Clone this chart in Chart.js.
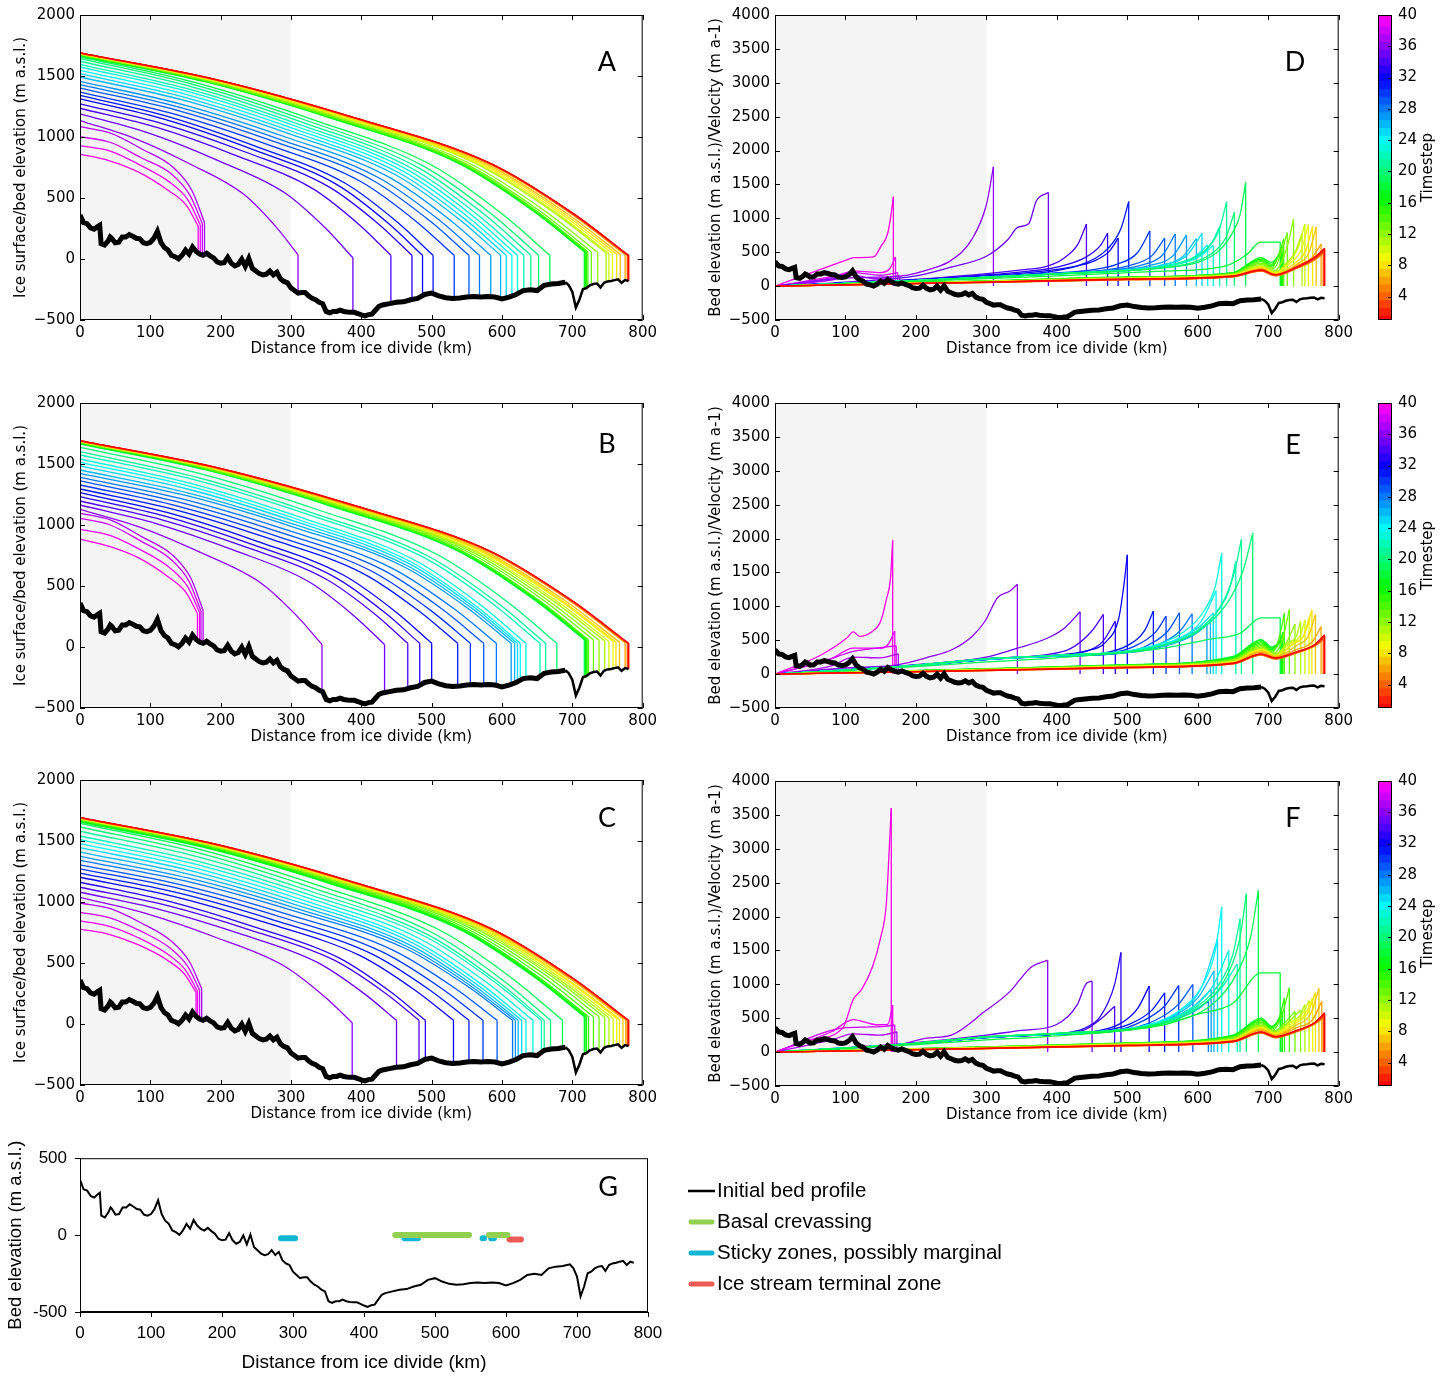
<!DOCTYPE html>
<html>
<head>
<meta charset="utf-8">
<title>Ice sheet retreat timesteps</title>
<script src="https://cdn.jsdelivr.net/npm/chart.js@4.4.1/dist/chart.umd.min.js"></script>
<style>
  body { margin: 0; background: #fff; width: 1450px; height: 1376px; position: relative; overflow: hidden; }
  canvas { position: absolute; }
</style>
</head>
<body>
<canvas id="chartA" width="661" height="365" style="left:0;top:0"></canvas>
<canvas id="chartB" width="661" height="365" style="left:0;top:388px"></canvas>
<canvas id="chartC" width="661" height="365" style="left:0;top:765px"></canvas>
<canvas id="chartD" width="662" height="365" style="left:695px;top:0"></canvas>
<canvas id="chartE" width="662" height="365" style="left:695px;top:388px"></canvas>
<canvas id="chartF" width="662" height="365" style="left:695px;top:766px"></canvas>
<canvas id="barD" width="80" height="340" style="left:1370px;top:0"></canvas>
<canvas id="barE" width="80" height="340" style="left:1370px;top:388px"></canvas>
<canvas id="barF" width="80" height="340" style="left:1370px;top:766px"></canvas>
<canvas id="chartG" width="1060" height="236" style="left:0;top:1140px"></canvas>
<script>
// ---- data ----
const timesteps = [1,2,3,4,5,6,7,8,9,10,11,12,13,14,15,16,17,18,19,20,21,22,23,24,25,26,27,28,29,30,31,32,33,34,35,36,37,38,39,40];
const colourbarTicks = [4,8,12,16,20,24,28,32,36,40];

// initial bed profile (km, m a.s.l.)
const bedKm = [0,5,10,15,20,25,28,30,35,40,43,45,50,55,60,65,70,75,80,85,90,95,100,105,110,115,120,125,130,135,140,145,150,155,160,165,170,175,180,185,190,195,200,205,210,215,220,225,230,235,240,245,250,255,260,265,270,275,280,285,290,295,300,305,310,315,320,325,330,335,340,345,350,355,360,365,370,375,380,385,390,395,400,405,410,415,420,425,430,440,450,460,470,480,490,500,510,520,530,540,550,560,570,580,590,600,610,620,630,640,650,660,670,680,690,695,700,705,710,715,720,725,730,735,740,745,750,755,760,765,770,775,780];
const bedElev = [360,298,290,255,244,265,276,126,115,148,180,170,133,137,180,180,200,186,170,165,133,126,137,170,227,137,94,73,30,19,2,30,73,41,98,62,41,30,47,26,9,-24,-34,-30,13,-34,-56,-45,-2,-60,4,-77,-98,-120,-130,-124,-98,-130,-109,-163,-184,-195,-238,-259,-280,-274,-274,-302,-323,-334,-355,-366,-430,-441,-430,-430,-420,-430,-435,-437,-437,-447,-458,-467,-456,-452,-420,-388,-377,-366,-355,-351,-334,-323,-291,-280,-302,-317,-323,-319,-312,-308,-312,-308,-312,-327,-312,-291,-259,-252,-259,-216,-205,-201,-190,-216,-270,-398,-334,-248,-238,-216,-205,-201,-233,-195,-184,-180,-173,-167,-195,-173,-180];

// ice surface rows: elevation at these fractions of each timestep's ice length
const surfFrac = [0, 0.25, 0.5, 0.75, 0.9, 1];

// terminus position (km) per timestep
const termA = [780,780,779,779,778,775,768,763,757,752,748,736,727,722,720,719,718,717,668,652,641,631,622,614,606,598,584,568,553,532,502,487,472,442,388,310,177,174,171,168];
const termB = [780,780,779,779,778,775,767,762,758,752,746,738,730,723,721,720,719,718,717,678,662,654,634,626,622,618,613,592,574,555,537,500,483,466,433,344,175,172,170,167];
const termC = [780,780,779,779,778,776,772,767,763,758,752,746,738,730,723,720,718,717,686,669,660,656,644,634,628,623,619,615,593,573,553,531,491,482,450,387,173,170,167,165];

const surfA = [
  [1690,1469,1159,780,370,30],[1690,1469,1159,780,370,30],[1689,1468,1158,780,370,30],[1688,1467,1157,779,370,30],
  [1687,1466,1157,779,370,30],[1686,1466,1158,781,373,35],[1685,1466,1159,784,377,40],[1684,1465,1158,783,377,40],
  [1683,1465,1159,785,381,45],[1682,1464,1158,785,381,45],[1680,1463,1158,787,384,50],[1678,1462,1159,789,388,55],
  [1676,1461,1159,790,391,60],[1674,1459,1158,790,391,60],[1672,1458,1156,789,390,60],[1670,1456,1155,788,390,60],
  [1667,1453,1153,786,389,60],[1664,1451,1151,785,389,60],[1658,1441,1137,766,364,30],[1643,1428,1127,759,361,30],
  [1621,1409,1112,749,356,30],[1596,1388,1095,738,351,30],[1574,1369,1080,728,347,30],[1547,1345,1062,716,341,30],
  [1519,1321,1043,703,335,30],[1492,1298,1024,691,330,30],[1456,1266,1000,675,322,30],[1429,1243,981,662,317,30],
  [1401,1219,962,650,311,30],[1368,1190,940,635,304,30],[1341,1167,921,623,299,30],[1313,1142,902,610,293,30],
  [1272,1107,875,591,285,30],[1236,1076,850,575,277,30],[1190,1033,812,543,252,10],[1135,989,783,532,261,35],
  [1085,1030,900,750,560,300],[1003,955,830,695,520,290],[929,885,770,626,480,280],[860,805,710,560,440,270]
];
const surfB = [
  [1692,1471,1160,781,371,30],[1691,1470,1160,781,371,30],[1690,1469,1159,780,370,30],[1689,1468,1158,780,370,30],
  [1688,1467,1157,779,370,30],[1687,1467,1158,782,374,35],[1686,1467,1159,784,377,40],[1685,1466,1158,784,377,40],
  [1684,1466,1160,786,381,45],[1683,1465,1159,785,381,45],[1681,1464,1159,787,384,50],[1680,1464,1160,790,388,55],
  [1678,1463,1160,791,392,60],[1676,1461,1159,790,391,60],[1674,1459,1158,790,391,60],[1672,1458,1156,789,390,60],
  [1670,1456,1155,788,390,60],[1667,1453,1153,786,389,60],[1664,1451,1151,785,389,60],[1637,1423,1123,756,359,30],
  [1601,1392,1098,740,352,30],[1574,1369,1080,728,347,30],[1541,1340,1057,713,340,30],[1514,1317,1039,701,334,30],
  [1484,1291,1019,687,328,30],[1451,1262,996,672,321,30],[1423,1238,977,660,316,30],[1391,1210,955,645,309,30],
  [1361,1184,935,632,303,30],[1328,1155,913,617,296,30],[1295,1127,890,602,289,30],[1265,1101,870,588,283,30],
  [1232,1072,847,573,276,30],[1197,1042,824,557,269,30],[1164,1012,798,537,255,20],[1128,981,773,521,247,20],
  [1096,1040,905,755,565,300],[1055,1000,870,720,540,295],[964,915,800,650,495,285],[885,825,730,575,450,275]
];
const surfC = [
  [1693,1472,1161,782,371,30],[1692,1471,1160,781,371,30],[1691,1470,1160,781,371,30],[1690,1469,1159,780,370,30],
  [1689,1468,1158,780,370,30],[1688,1468,1159,782,374,35],[1687,1468,1160,784,378,40],[1686,1467,1159,784,377,40],
  [1684,1466,1160,786,381,45],[1682,1464,1158,785,381,45],[1680,1463,1158,787,384,50],[1678,1462,1159,789,388,55],
  [1676,1461,1159,790,391,60],[1673,1458,1157,789,391,60],[1670,1456,1155,788,390,60],[1666,1452,1152,786,389,60],
  [1661,1448,1149,784,388,60],[1655,1443,1145,781,387,60],[1645,1430,1128,760,361,30],[1615,1404,1108,746,355,30],
  [1580,1374,1084,731,348,30],[1541,1340,1057,713,340,30],[1511,1314,1037,699,334,30],[1478,1285,1015,684,327,30],
  [1445,1257,992,670,320,30],[1409,1226,968,653,313,30],[1374,1195,944,637,306,30],[1341,1167,921,623,299,30],
  [1305,1135,897,606,291,30],[1272,1107,875,591,285,30],[1236,1076,850,575,277,30],[1203,1047,828,560,270,30],
  [1162,1011,800,542,262,30],[1121,976,772,523,254,30],[1080,940,744,505,245,30],[1038,901,709,475,221,10],
  [992,945,830,680,510,290],[915,870,765,625,475,280],[846,800,705,570,440,270],[777,735,650,525,410,260]
];

// velocity profiles: [km, m a-1] points up to the terminus peak
const velD = [
  [[0,0],[300,60],[500,105],[650,150],[690,240],[710,170],[740,280],[765,420],[780,560]],
  [[0,0],[300,58],[500,100],[650,145],[690,235],[710,165],[740,275],[765,410],[780,540]],
  [[0,0],[300,55],[500,98],[650,142],[690,230],[710,160],[740,270],[765,400],[779,520]],
  [[0,0],[300,55],[500,95],[650,140],[690,225],[710,155],[740,265],[765,390],[779,500]],
  [[0,0],[300,52],[500,92],[650,138],[690,220],[710,150],[740,260],[765,380],[778,480]],
  [[0,0],[300,60],[500,105],[650,150],[690,250],[710,170],[740,300],[762,420],[775,620]],
  [[0,0],[300,60],[500,108],[650,155],[690,260],[710,180],[740,320],[758,500],[768,870]],
  [[0,0],[300,62],[500,110],[650,158],[690,270],[710,185],[735,320],[753,520],[763,880]],
  [[0,0],[300,64],[500,112],[650,160],[690,280],[710,190],[730,330],[747,540],[757,905]],
  [[0,0],[300,65],[500,115],[650,165],[690,290],[710,200],[728,340],[742,560],[752,917]],
  [[0,0],[300,66],[500,118],[650,170],[690,300],[710,210],[725,330],[738,500],[748,780]],
  [[0,0],[300,68],[500,120],[650,175],[690,320],[710,230],[720,380],[728,620],[736,990]],
  [[0,0],[300,70],[500,125],[650,180],[690,340],[708,260],[718,480],[727,790]],
  [[0,0],[300,72],[500,128],[650,185],[690,360],[706,280],[715,470],[722,700]],
  [[0,0],[300,74],[500,130],[650,190],[690,380],[705,300],[714,430],[720,600]],
  [[0,0],[300,76],[500,132],[650,195],[690,400],[705,320],[712,420],[719,520]],
  [[0,0],[300,78],[500,135],[650,200],[690,420],[704,350],[718,480]],
  [[0,0],[200,70],[400,150],[550,220],[640,300],[670,470],[689,650],[717,650]],
  [[0,0],[200,80],[400,180],[550,270],[600,350],[630,520],[650,800],[660,1050],[668,1532]],
  [[0,0],[200,80],[400,180],[550,270],[590,340],[620,480],[640,720],[652,1090]],
  [[0,0],[200,80],[400,180],[540,270],[580,360],[610,520],[630,820],[641,1247]],
  [[0,0],[200,80],[400,180],[530,260],[570,330],[600,450],[620,640],[631,878]],
  [[0,0],[200,80],[400,180],[530,260],[570,320],[600,420],[622,600]],
  [[0,0],[200,80],[400,180],[520,250],[560,310],[595,430],[614,608]],
  [[0,0],[200,80],[400,180],[510,250],[550,310],[585,460],[606,780]],
  [[0,0],[200,80],[400,180],[500,240],[545,300],[578,430],[598,700]],
  [[0,0],[200,80],[400,180],[490,240],[530,300],[565,450],[584,755]],
  [[0,0],[200,80],[400,185],[480,240],[520,310],[550,460],[568,770]],
  [[0,0],[200,85],[400,190],[470,240],[505,310],[535,450],[553,707]],
  [[0,0],[200,85],[400,195],[450,240],[485,320],[515,500],[532,814]],
  [[0,0],[200,90],[400,230],[435,320],[473,560],[491,850],[502,1247]],
  [[0,0],[200,90],[380,220],[420,280],[455,380],[475,520],[487,707]],
  [[0,0],[200,95],[360,220],[400,280],[440,420],[462,600],[472,780]],
  [[0,0],[200,100],[350,240],[388,300],[411,420],[430,620],[442,917]],
  [[0,0],[100,60],[200,150],[250,280],[300,440],[330,680],[345,870],[360,920],[371,1260],[388,1380]],
  [[0,0],[100,120],[180,150],[220,250],[250,380],[280,700],[300,1200],[310,1760]],
  [[0,0],[80,90],[110,160],[140,110],[177,150]],
  [[0,0],[80,120],[110,200],[150,160],[174,200]],
  [[0,0],[80,140],[115,220],[150,200],[163,260],[171,430]],
  [[0,0],[50,190],[100,380],[112,420],[140,430],[150,580],[160,780],[165,1076],[168,1320]]
];
const velE = [
  [[0,0],[300,55],[500,100],[650,160],[690,300],[710,240],[740,330],[765,430],[780,580]],
  [[0,0],[300,54],[500,98],[650,158],[690,295],[710,235],[740,325],[765,425],[780,560]],
  [[0,0],[300,53],[500,96],[650,155],[690,290],[710,230],[740,320],[765,420],[779,540]],
  [[0,0],[300,52],[500,94],[650,152],[690,285],[710,225],[740,315],[765,415],[779,520]],
  [[0,0],[300,51],[500,92],[650,150],[690,280],[710,220],[740,310],[765,410],[778,500]],
  [[0,0],[300,58],[500,105],[650,165],[690,320],[710,250],[740,360],[762,470],[775,700]],
  [[0,0],[300,60],[500,108],[650,170],[690,340],[710,260],[740,420],[757,560],[767,880]],
  [[0,0],[300,62],[500,110],[650,175],[690,350],[710,265],[735,440],[752,600],[762,950]],
  [[0,0],[300,63],[500,112],[650,180],[690,360],[710,270],[735,450],[750,560],[758,830]],
  [[0,0],[300,64],[500,115],[650,185],[690,370],[710,280],[730,450],[745,560],[752,800]],
  [[0,0],[300,66],[500,118],[650,190],[690,380],[710,290],[728,460],[740,560],[746,780]],
  [[0,0],[300,68],[500,120],[650,200],[690,400],[710,300],[725,450],[738,740]],
  [[0,0],[300,70],[500,125],[650,210],[690,420],[708,310],[720,500],[730,955]],
  [[0,0],[300,72],[500,128],[650,220],[690,440],[706,320],[716,560],[723,905]],
  [[0,0],[300,74],[500,130],[650,230],[690,460],[705,340],[715,450],[721,620]],
  [[0,0],[300,76],[500,132],[650,240],[690,480],[705,360],[720,550]],
  [[0,0],[300,78],[500,135],[650,250],[690,500],[705,380],[719,500]],
  [[0,0],[300,80],[500,138],[650,260],[690,510],[705,400],[718,480]],
  [[0,0],[200,110],[300,180],[400,240],[550,380],[620,520],[660,600],[690,830],[717,830]],
  [[0,0],[200,130],[300,225],[400,275],[550,420],[610,700],[645,1100],[665,1550],[678,2083]],
  [[0,0],[200,130],[300,225],[400,275],[540,400],[600,650],[635,1050],[652,1500],[662,1988]],
  [[0,0],[200,130],[300,225],[400,275],[540,400],[600,640],[630,950],[645,1250],[654,1665]],
  [[0,0],[200,130],[300,225],[400,275],[520,380],[580,620],[610,950],[625,1300],[634,1784]],
  [[0,0],[200,130],[300,222],[400,272],[520,370],[575,540],[605,780],[626,1228]],
  [[0,0],[200,128],[300,220],[400,270],[520,360],[570,500],[600,680],[622,900]],
  [[0,0],[200,128],[300,220],[400,270],[520,350],[570,470],[600,620],[618,800]],
  [[0,0],[200,126],[300,218],[400,268],[520,340],[565,450],[595,580],[613,730]],
  [[0,0],[200,126],[300,218],[400,268],[500,320],[545,440],[575,640],[592,890]],
  [[0,0],[200,125],[300,216],[400,266],[490,310],[530,430],[558,640],[574,905]],
  [[0,0],[200,125],[300,215],[400,265],[470,300],[510,410],[540,620],[555,855]],
  [[0,0],[200,125],[300,215],[400,265],[460,300],[500,420],[525,650],[537,930]],
  [[0,0],[200,130],[300,225],[400,280],[440,340],[470,480],[488,830],[495,1300],[500,1760]],
  [[0,0],[200,130],[300,225],[400,280],[440,330],[465,480],[483,781]],
  [[0,0],[200,135],[300,228],[380,280],[420,380],[450,640],[466,880]],
  [[0,0],[200,140],[300,250],[344,383],[387,533],[411,682],[433,920]],
  [[0,0],[100,90],[173,135],[221,260],[251,360],[280,560],[298,780],[316,1130],[334,1230],[344,1327]],
  [[0,0],[80,120],[111,250],[150,240],[175,300]],
  [[0,0],[72,200],[111,334],[150,390],[172,418]],
  [[0,0],[80,230],[111,383],[150,383],[160,433],[170,632]],
  [[0,0],[66,285],[102,533],[111,622],[120,557],[138,630],[150,780],[158,1100],[164,1427],[167,1973]]
];
const velF = [
  [[0,0],[300,55],[500,100],[650,160],[690,300],[710,230],[740,320],[765,430],[780,580]],
  [[0,0],[300,54],[500,98],[650,158],[690,295],[710,225],[740,315],[765,425],[780,560]],
  [[0,0],[300,53],[500,96],[650,155],[690,290],[710,220],[740,310],[765,420],[779,540]],
  [[0,0],[300,52],[500,94],[650,152],[690,285],[710,215],[740,305],[765,415],[779,520]],
  [[0,0],[300,51],[500,92],[650,150],[690,280],[710,210],[740,300],[765,410],[778,500]],
  [[0,0],[300,58],[500,105],[650,165],[690,320],[710,240],[740,360],[763,480],[776,750]],
  [[0,0],[300,60],[500,108],[650,170],[690,340],[710,250],[740,400],[760,560],[772,940]],
  [[0,0],[300,62],[500,110],[650,175],[690,350],[710,260],[738,420],[756,580],[767,880]],
  [[0,0],[300,63],[500,112],[650,180],[690,360],[710,270],[735,430],[752,560],[763,800]],
  [[0,0],[300,64],[500,115],[650,185],[690,370],[710,280],[732,440],[748,560],[758,760]],
  [[0,0],[300,66],[500,118],[650,190],[690,380],[710,290],[730,440],[745,540],[752,700]],
  [[0,0],[300,68],[500,120],[650,200],[690,400],[710,300],[728,440],[746,620]],
  [[0,0],[300,70],[500,125],[650,210],[690,420],[708,310],[725,450],[738,600]],
  [[0,0],[300,72],[500,128],[650,220],[690,440],[706,320],[720,560],[730,950]],
  [[0,0],[300,74],[500,130],[650,230],[690,460],[705,340],[716,520],[723,800]],
  [[0,0],[300,76],[500,132],[650,240],[690,480],[705,360],[713,450],[720,600]],
  [[0,0],[300,78],[500,135],[650,250],[690,500],[705,380],[718,500]],
  [[0,0],[200,110],[300,180],[400,240],[550,400],[600,560],[650,720],[690,1170],[717,1170]],
  [[0,0],[200,130],[300,225],[400,275],[550,420],[620,700],[655,1150],[675,1700],[686,2388]],
  [[0,0],[200,130],[300,225],[400,275],[540,400],[605,680],[640,1100],[660,1700],[669,2338]],
  [[0,0],[200,130],[300,225],[400,275],[530,390],[595,650],[630,1000],[650,1450],[660,1966]],
  [[0,0],[200,130],[300,225],[400,275],[530,385],[590,600],[630,900],[656,1300]],
  [[0,0],[200,130],[300,222],[400,272],[520,375],[580,580],[620,950],[644,1500]],
  [[0,0],[200,130],[300,222],[400,272],[520,375],[575,620],[610,1050],[625,1500],[634,2140]],
  [[0,0],[200,128],[300,220],[400,270],[510,360],[570,580],[605,950],[628,1669]],
  [[0,0],[200,128],[300,220],[400,270],[510,350],[565,530],[600,800],[623,1197]],
  [[0,0],[200,126],[300,218],[400,268],[510,345],[560,490],[595,680],[619,925]],
  [[0,0],[200,126],[300,218],[400,268],[510,340],[560,470],[595,600],[615,750]],
  [[0,0],[200,125],[300,216],[400,266],[490,320],[540,470],[572,700],[593,999]],
  [[0,0],[200,125],[300,215],[400,265],[480,310],[520,450],[553,680],[573,984]],
  [[0,0],[200,125],[300,215],[400,265],[460,300],[505,420],[535,620],[553,875]],
  [[0,0],[200,125],[300,215],[400,265],[450,300],[490,420],[515,650],[531,974]],
  [[0,0],[200,130],[300,225],[400,270],[440,354],[462,530],[482,1000],[491,1470]],
  [[0,0],[200,130],[300,225],[400,265],[440,330],[464,503],[482,677]],
  [[0,0],[200,140],[300,250],[350,320],[399,404],[429,700],[441,1000],[450,1049]],
  [[0,0],[100,60],[173,100],[215,205],[251,255],[298,602],[334,900],[346,1050],[363,1247],[387,1356]],
  [[0,0],[80,180],[111,270],[150,250],[173,300]],
  [[0,0],[96,354],[130,370],[155,379],[170,400]],
  [[0,0],[80,300],[111,478],[144,404],[160,410],[167,690]],
  [[0,0],[50,180],[96,354],[111,776],[123,925],[138,1247],[150,1693],[158,2190],[163,3180],[165,3603]]
];

// panel G zones (km ranges) and the level each is drawn at (m)
const crevasseZones = [[444,548],[576,602]];
const stickyZones = [[283,303],[457,476],[567,569],[579,583]];
const terminalZones = [[605,621]];
const zoneLevels = [0, -20, -28];

// ---- styling helpers ----
Chart.defaults.font.family = "'DejaVu Sans', sans-serif";
Chart.defaults.font.size = 15;
Chart.defaults.color = '#000';
Chart.defaults.elements.point.radius = 0;
Chart.defaults.elements.line.borderCapStyle = 'butt';

const shadeKm = 300;

function stepColour(t) {
  return 'hsl(' + (305 * (t - 1) / 39).toFixed(1) + ', 100%, 49%)';
}

function minusLabel(v) {
  return v < 0 ? '\u2212' + Math.abs(v) : String(v);
}

function nearestBed(km) {
  let best = 0;
  bedKm.forEach((k, i) => {
    if (Math.abs(k - km) < Math.abs(bedKm[best] - km)) best = i;
  });
  return bedElev[best];
}

function bedSet() {
  return {
    data: bedKm.map((k, i) => ({ x: k, y: bedElev[i] })),
    borderColor: '#000',
    borderWidth: 5,
    segment: { borderWidth: c => (c.p0.parsed.x >= 690 ? 2.5 : 5) }
  };
}

function surfaceSets(rows, term) {
  const sets = [];
  rows.forEach((row, i) => {
    const colour = stepColour(timesteps[i]);
    const L = term[i];
    sets.push({
      data: row.map((v, j) => ({ x: surfFrac[j] * L, y: v })),
      borderColor: colour, borderWidth: 1.3, cubicInterpolationMode: 'monotone'
    });
    // calving front: straight drop to the bed
    sets.push({
      data: [{ x: L, y: row[row.length - 1] }, { x: L, y: nearestBed(L) }],
      borderColor: colour, borderWidth: 1.3
    });
  });
  return sets;
}

function velocitySets(rows) {
  const sets = [];
  rows.forEach((row, i) => {
    const colour = stepColour(timesteps[i]);
    const end = row[row.length - 1];
    sets.push({
      data: row.map(p => ({ x: p[0], y: p[1] })),
      borderColor: colour, borderWidth: 1.3, cubicInterpolationMode: 'monotone'
    });
    // drop back to zero at the terminus
    sets.push({
      data: [{ x: end[0], y: end[1] }, { x: end[0], y: 0 }],
      borderColor: colour, borderWidth: 1.3
    });
  });
  return sets;
}

// grey band, box frame, inward ticks and panel letter
const panelFrame = {
  id: 'panelFrame',
  beforeDatasetsDraw(chart, args, o) {
    if (o.shadeTo == null) return;
    const { ctx, chartArea: a, scales: { x } } = chart;
    ctx.save();
    ctx.fillStyle = '#f4f4f4';
    ctx.fillRect(a.left, a.top, x.getPixelForValue(o.shadeTo) - a.left, a.bottom - a.top);
    ctx.restore();
  },
  afterDraw(chart, args, o) {
    const { ctx, chartArea: a, scales: { x, y } } = chart;
    ctx.save();
    ctx.strokeStyle = '#000';
    ctx.lineWidth = 1;
    ctx.strokeRect(a.left + 0.5, a.top + 0.5, a.right - a.left - 1, a.bottom - a.top - 1);
    if (o.innerTicks) {
      ctx.beginPath();
      x.ticks.forEach(t => {
        const p = Math.round(x.getPixelForValue(t.value)) + 0.5;
        ctx.moveTo(p, a.bottom); ctx.lineTo(p, a.bottom - 5);
        ctx.moveTo(p, a.top); ctx.lineTo(p, a.top + 5);
      });
      y.ticks.forEach(t => {
        const p = Math.round(y.getPixelForValue(t.value)) + 0.5;
        ctx.moveTo(a.left, p); ctx.lineTo(a.left + 5, p);
        ctx.moveTo(a.right, p); ctx.lineTo(a.right - 5, p);
      });
      ctx.stroke();
    }
    ctx.fillStyle = '#000';
    ctx.font = "27px 'Lato', 'Open Sans', sans-serif";
    ctx.textAlign = 'center';
    ctx.textBaseline = 'middle';
    ctx.fillText(o.letter, o.letterX, o.letterY);
    ctx.restore();
  }
};

function panelOptions(yMax, yTitle, letter, letterX, letterY) {
  return {
    responsive: false, animation: false, events: [],
    layout: { padding: { top: 15, right: 15, left: 0, bottom: 0 } },
    plugins: {
      legend: { display: false }, tooltip: { enabled: false },
      panelFrame: { shadeTo: shadeKm, innerTicks: true, letter, letterX, letterY }
    },
    scales: {
      x: {
        type: 'linear', min: 0, max: 800,
        afterFit: s => { s.height = 45; },
        ticks: { stepSize: 100, padding: 4, maxRotation: 0, autoSkip: false },
        grid: { display: false, drawTicks: false }, border: { display: false },
        title: { display: true, text: 'Distance from ice divide (km)', padding: { top: 0, bottom: 7 } }
      },
      y: {
        type: 'linear', min: -500, max: yMax,
        afterFit: s => { s.width = 80; },
        ticks: { stepSize: 500, padding: 5, callback: minusLabel, autoSkip: false },
        grid: { display: false, drawTicks: false }, border: { display: false },
        title: { display: true, text: yTitle, padding: { top: 12, bottom: 0 } }
      }
    }
  };
}

const surfTitle = 'Ice surface/bed elevation (m a.s.l.)';
const velTitle = 'Bed elevation (m a.s.l.)/Velocity (m a-1)';

function surfacePanel(id, rows, term, letter, letterY) {
  new Chart(document.getElementById(id), {
    type: 'line',
    data: { datasets: [bedSet(), ...surfaceSets(rows, term)] },
    options: panelOptions(2000, surfTitle, letter, 607, letterY),
    plugins: [panelFrame]
  });
}

function velocityPanel(id, rows, letter, letterX, letterY) {
  new Chart(document.getElementById(id), {
    type: 'line',
    data: { datasets: [bedSet(), ...velocitySets(rows)] },
    options: panelOptions(4000, velTitle, letter, letterX, letterY),
    plugins: [panelFrame]
  });
}

surfacePanel('chartA', surfA, termA, 'A', 62);
surfacePanel('chartB', surfB, termB, 'B', 56);
surfacePanel('chartC', surfC, termC, 'C', 53);
velocityPanel('chartD', velD, 'D', 600, 62);
velocityPanel('chartE', velE, 'E', 598, 57);
velocityPanel('chartF', velF, 'F', 598, 52);

// ---- colour bars ----
const barFrame = {
  id: 'barFrame',
  afterDraw(chart) {
    const { ctx, chartArea: a, scales: { y } } = chart;
    ctx.save();
    ctx.strokeStyle = '#000';
    ctx.lineWidth = 1;
    ctx.strokeRect(a.left + 0.5, a.top + 0.5, a.right - a.left - 1, a.bottom - a.top - 1);
    ctx.beginPath();
    y.ticks.forEach(t => {
      const p = Math.round(y.getPixelForValue(t.value)) + 0.5;
      ctx.moveTo(a.right, p); ctx.lineTo(a.right - 4, p);
    });
    ctx.stroke();
    ctx.fillStyle = '#000';
    ctx.font = "15px 'DejaVu Sans'";
    ctx.textAlign = 'center';
    ctx.textBaseline = 'middle';
    ctx.translate(58, (a.top + a.bottom) / 2);
    ctx.rotate(-Math.PI / 2);
    ctx.fillText('Timestep', 0, 0);
    ctx.restore();
  }
};

function colourBar(id) {
  new Chart(document.getElementById(id), {
    type: 'bar',
    data: {
      labels: ['Timestep'],
      datasets: timesteps.map(t => ({
        data: [[t - 0.5, t + 0.5]], backgroundColor: stepColour(t), borderWidth: 0,
        grouped: false, barPercentage: 1, categoryPercentage: 1
      }))
    },
    options: {
      responsive: false, animation: false, events: [],
      layout: { padding: { top: 15, bottom: 20, left: 8, right: 0 } },
      plugins: { legend: { display: false }, tooltip: { enabled: false } },
      scales: {
        x: { display: false },
        y: {
          position: 'right', min: 1, max: 40,
          afterFit: s => { s.width = 58; },
          afterBuildTicks: s => { s.ticks = colourbarTicks.map(v => ({ value: v })); },
          ticks: { padding: 6 },
          grid: { display: false, drawTicks: false }, border: { display: false }
        }
      }
    },
    plugins: [barFrame]
  });
}
colourBar('barD');
colourBar('barE');
colourBar('barF');

// ---- panel G: bed profile with zones ----
function zoneData(zones, level) {
  const pts = [];
  zones.forEach(z => {
    pts.push({ x: z[0], y: level }, { x: z[1], y: level }, { x: z[1], y: null });
  });
  return pts;
}

const zoneLegend = {
  id: 'zoneLegend',
  afterDraw(chart, args, o) {
    const { ctx } = chart;
    ctx.save();
    ctx.font = "20.5px 'Liberation Sans', Arial, sans-serif";
    ctx.textBaseline = 'middle';
    ctx.fillStyle = '#000';
    chart.data.datasets.forEach((ds, i) => {
      const yy = o.top + i * o.gap;
      ctx.beginPath();
      ctx.strokeStyle = ds.borderColor;
      ctx.lineWidth = ds.legendWidth;
      ctx.lineCap = i === 0 ? 'butt' : 'round';
      ctx.moveTo(o.left + (i === 0 ? 0 : 3), yy);
      ctx.lineTo(o.left + (i === 0 ? 27 : 24), yy);
      ctx.stroke();
      ctx.fillText(ds.label, o.left + 29, yy);
    });
    ctx.restore();
  }
};

const gFont = "'Liberation Sans', Arial, sans-serif";
new Chart(document.getElementById('chartG'), {
  type: 'line',
  data: {
    datasets: [
      { label: 'Initial bed profile', data: bedKm.map((k, i) => ({ x: k, y: bedElev[i] })),
        borderColor: '#000', borderWidth: 2, legendWidth: 2.5 },
      { label: 'Basal crevassing', data: zoneData(crevasseZones, zoneLevels[0]),
        borderColor: '#92d050', borderWidth: 6, borderCapStyle: 'round', spanGaps: false, legendWidth: 5 },
      { label: 'Sticky zones, possibly marginal', data: zoneData(stickyZones, zoneLevels[1]),
        borderColor: '#12b6d3', borderWidth: 6, borderCapStyle: 'round', spanGaps: false, legendWidth: 5 },
      { label: 'Ice stream terminal zone', data: zoneData(terminalZones, zoneLevels[2]),
        borderColor: '#eb5a55', borderWidth: 6, borderCapStyle: 'round', spanGaps: false, legendWidth: 5 }
    ]
  },
  options: {
    responsive: false, animation: false, events: [],
    layout: { padding: { top: 17, right: 412, left: 0, bottom: 0 } },
    plugins: {
      legend: { display: false }, tooltip: { enabled: false },
      panelFrame: { shadeTo: null, innerTicks: false, letter: 'G', letterX: 608, letterY: 47 },
      zoneLegend: { left: 688, top: 51, gap: 31 }
    },
    scales: {
      x: {
        type: 'linear', min: 0, max: 800,
        afterFit: s => { s.height = 64; },
        ticks: { stepSize: 100, padding: 6, maxRotation: 0, autoSkip: false, font: { family: gFont, size: 17 } },
        grid: { display: true, drawOnChartArea: false, drawTicks: true, tickLength: 5, color: '#000' },
        border: { display: true, color: '#000' },
        title: { display: true, text: 'Distance from ice divide (km)', font: { family: gFont, size: 19 }, padding: { top: 0, bottom: 2 } }
      },
      y: {
        type: 'linear', min: -500, max: 500,
        afterFit: s => { s.width = 80; },
        ticks: { stepSize: 500, padding: 8, font: { family: gFont, size: 17 } },
        grid: { display: true, drawOnChartArea: false, drawTicks: true, tickLength: 5, color: '#000' },
        border: { display: true, color: '#000' },
        title: { display: true, text: 'Bed elevation (m a.s.l.)', font: { family: gFont, size: 18.5 }, padding: { top: 5, bottom: 0 } }
      }
    }
  },
  plugins: [panelFrame, zoneLegend]
});
</script>
</body>
</html>
